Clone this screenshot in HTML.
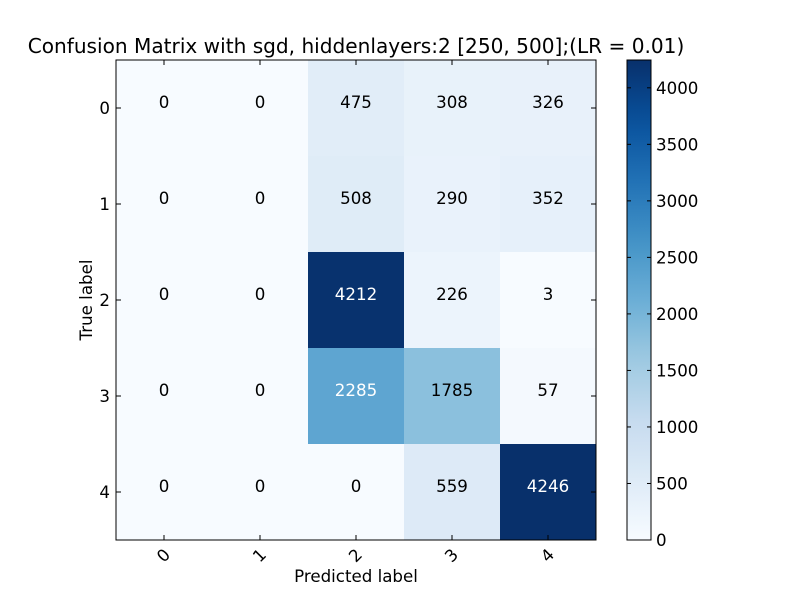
<!DOCTYPE html>
<html><head><meta charset="utf-8"><style>
body{margin:0;background:#fff;}
svg{display:block;font-family:"DejaVu Sans","Liberation Sans",sans-serif;}
</style></head><body>
<svg id="chart" width="800" height="600" viewBox="0 0 800 600"></svg>
<script>
const classLabels=["0","1","2","3","4"];
const row0=[0,0,475,308,326];
const row1=[0,0,508,290,352];
const row2=[0,0,4212,226,3];
const row3=[0,0,2285,1785,57];
const row4=[0,0,0,559,4246];
const matrix=[row0,row1,row2,row3,row4];
const cbarTicks=[0,500,1000,1500,2000,2500,3000,3500,4000];

const NS="http://www.w3.org/2000/svg";
const svg=document.getElementById('chart');
function el(tag,attrs,parent){const e=document.createElementNS(NS,tag);for(const k in attrs)e.setAttribute(k,attrs[k]);(parent||svg).appendChild(e);return e;}
const X0=116,Y0=60,W=480,H=480,n=classLabels.length,cw=W/n,ch=H/n;
const vmax=Math.max(...matrix.flat()),vmin=0;
const FS=16.67;
const stops=["#f7fbff","#deebf7","#c6dbef","#9ecae1","#6baed6","#4292c6","#2171b5","#08519c","#08306b"];
function hex(h){return [1,3,5].map(i=>parseInt(h.substr(i,2),16));}
function blues(t){t=Math.max(0,Math.min(1,t));const p=t*8,i=Math.min(7,Math.floor(p)),f=p-i;const a=hex(stops[i]),b=hex(stops[i+1]);return 'rgb('+a.map((v,k)=>Math.round(v+(b[k]-v)*f)).join(',')+')';}
const xPos=j=>X0+j*cw, yPos=i=>Y0+i*ch;

const title=el('text',{x:356,y:53,'text-anchor':'middle','font-size':20.1});
title.textContent='Confusion Matrix with sgd, hiddenlayers:2 [250, 500];(LR = 0.01)';



for(let i=0;i<n;i++)for(let j=0;j<n;j++){
  const v=matrix[i][j];
  const r=el('rect',{x:xPos(j),y:yPos(i),width:cw,height:ch,fill:blues((v-vmin)/(vmax-vmin))});
  
  
  const t=el('text',{x:xPos(j)+cw/2,y:yPos(i)+ch/2,'text-anchor':'middle','font-size':FS,fill:v>vmax/2?'#fff':'#000'});
  t.textContent=v;
  
  
}
const frame=el('rect',{x:X0,y:Y0,width:W,height:H,fill:'none',stroke:'#000','stroke-width':1});



for(let k=0;k<n;k++){
  const cx=xPos(k)+cw/2, cy=yPos(k)+ch/2;
  el('line',{x1:cx,y1:Y0+H,x2:cx,y2:Y0+H-5,stroke:'#000'});
  el('line',{x1:cx,y1:Y0,x2:cx,y2:Y0+5,stroke:'#000'});
  el('line',{x1:X0,y1:cy,x2:X0+5,y2:cy,stroke:'#000'});
  el('line',{x1:X0+W,y1:cy,x2:X0+W-5,y2:cy,stroke:'#000'});
  const xl=el('text',{x:cx,y:Y0+H+21,'text-anchor':'middle','font-size':FS,transform:'rotate(-45 '+cx+' '+(Y0+H+16)+')'});
  xl.textContent=classLabels[k];
  
  
  const yl=el('text',{x:X0-6,y:cy+6,'text-anchor':'end','font-size':FS});
  yl.textContent=classLabels[k];
  
  
}
const xt=el('text',{x:356,y:582,'text-anchor':'middle','font-size':FS});
xt.textContent='Predicted label';


const yt=el('text',{x:92,y:300,'text-anchor':'middle','font-size':FS,transform:'rotate(-90 92 300)'});
yt.textContent='True label';



// colorbar
const CX=627,CW=24;
const defs=el('defs',{});
const g=el('linearGradient',{id:'cb',x1:0,y1:1,x2:0,y2:0},defs);
for(let s=0;s<=20;s++)el('stop',{offset:s/20,'stop-color':blues(s/20)},g);
const cb=el('rect',{x:CX,y:Y0,width:CW,height:H,fill:'url(#cb)',stroke:'#000'});


const cy=v=>Y0+H-(v-vmin)/(vmax-vmin)*H;
cbarTicks.forEach(v=>{
  const y=cy(v);
  el('line',{x1:CX,y1:y,x2:CX+4,y2:y,stroke:'#000'});
  el('line',{x1:CX+CW,y1:y,x2:CX+CW-4,y2:y,stroke:'#000'});
  const t=el('text',{x:CX+CW+5,y:y+6,'font-size':FS});
  t.textContent=v;
  
  
});
</script>
</body></html>
